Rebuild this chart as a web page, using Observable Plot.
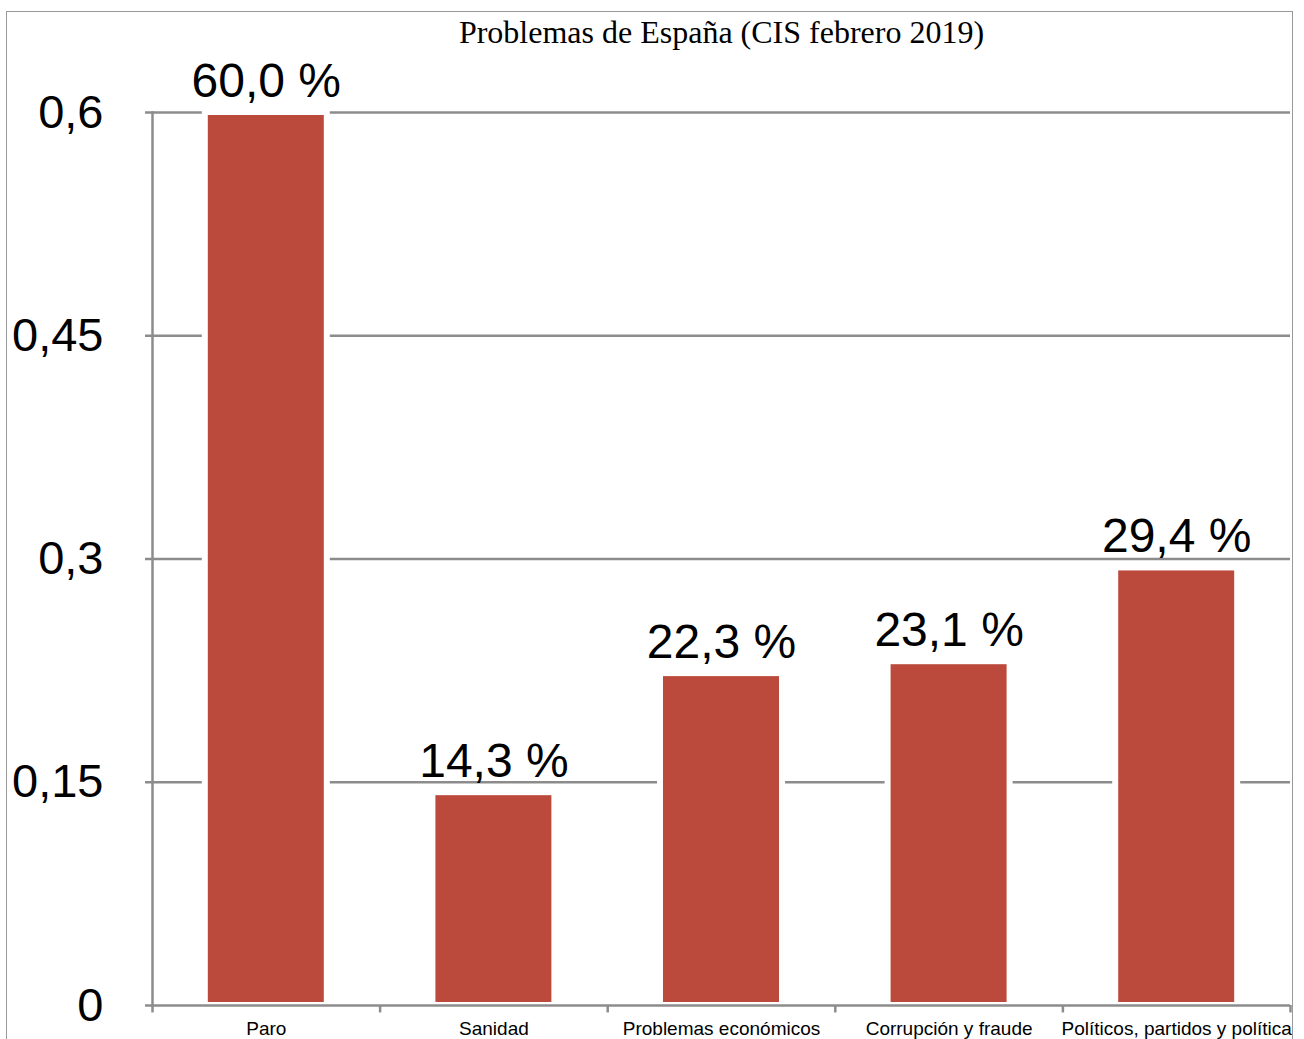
<!DOCTYPE html>
<html>
<head>
<meta charset="utf-8">
<script src="https://cdn.jsdelivr.net/npm/d3@7"></script>
<script src="https://cdn.jsdelivr.net/npm/@observablehq/plot@0.6"></script>
<style>
  html, body { margin: 0; padding: 0; background: #fff; }
  #wrap { position: relative; width: 1304px; height: 1039px; overflow: hidden; }
  #border { position: absolute; left: 6px; top: 11px; width: 1287px; height: 1100px;
            border: 1.5px solid #999; pointer-events: none; box-sizing: border-box; }
</style>
</head>
<body>
<div id="wrap"><div id="border"></div></div>
<script>
const title = "Problemas de España (CIS febrero 2019)";
const categories = ["Paro", "Sanidad", "Problemas económicos", "Corrupción y fraude", "Políticos, partidos y política"];
const values = [0.600, 0.143, 0.223, 0.231, 0.294];
const yTicks = [0, 0.15, 0.3, 0.45, 0.6];

const data = categories.map((c, i) => ({category: c, value: values[i]}));
const fmtTick = d => String(d).replace(".", ",");
const fmtLabel = v => (v * 100).toFixed(1).replace(".", ",") + " %";

const W = 1304, H = 1039, mL = 152, mR = 14;
const step = (W - mL - mR) / categories.length;
const grey = "#8c8c8c";
const sans = "'Liberation Sans', Arial, Helvetica, sans-serif";

const chart = Plot.plot({
  width: W,
  height: H,
  marginLeft: mL,
  marginRight: mR,
  marginTop: 112,
  marginBottom: 34,
  style: {fontFamily: sans, background: "white", overflow: "visible"},
  x: {domain: categories, paddingInner: 0.464, paddingOuter: 0.232, round: false, label: null},
  y: {domain: [0, 0.6], label: null},
  marks: [
    Plot.ruleY(yTicks.filter(d => d > 0), {stroke: grey, strokeWidth: 2.5}),
    Plot.barY(data, {x: "category", y: "value", fill: "#BC4A3C", stroke: "white", strokeWidth: 6}),
    Plot.ruleY([0], {stroke: grey, strokeWidth: 2.5}),
    Plot.frame({anchor: "left", stroke: grey, strokeWidth: 2.5}),
    Plot.axisY({ticks: yTicks, tickFormat: fmtTick, tickSize: 7, tickPadding: 42,
                stroke: grey, strokeWidth: 2.5, fontSize: 47, fill: "black", strokeOpacity: 1}),
    Plot.ruleX(categories, {x: d => d, y1: 0, y2: -0.005, dx: -step / 2, stroke: grey, strokeWidth: 2.5}),
    Plot.ruleX(categories.slice(-1), {x: d => d, y1: 0, y2: -0.005, dx: step / 2, stroke: grey, strokeWidth: 2.5}),
    Plot.axisX({tickSize: 0, tickPadding: 16, fontSize: 19, fill: "black"}),
    Plot.text(data, {x: "category", y: "value", text: d => fmtLabel(d.value),
                     lineAnchor: "bottom", dy: -16, fontSize: 48, fill: "black"}),
    Plot.text([title], {frameAnchor: "top", dy: -80, lineAnchor: "middle", fontSize: 32,
                        fontFamily: "'Liberation Serif', 'Times New Roman', serif", fill: "black"})
  ]
});
document.getElementById("wrap").prepend(chart);
</script>
</body>
</html>
